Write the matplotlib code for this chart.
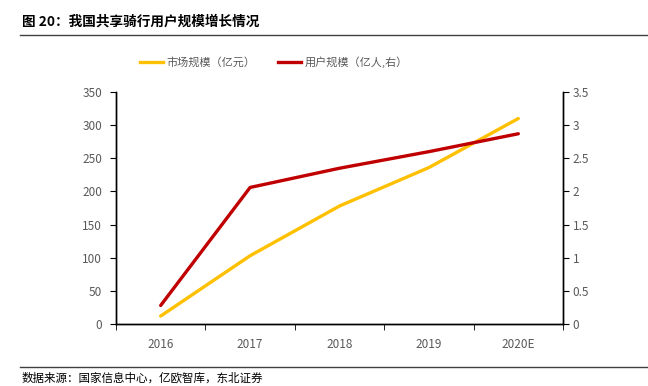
import matplotlib.pyplot as plt
from matplotlib.lines import Line2D
import numpy as np

plt.rcParams['font.family'] = ['Noto Sans CJK SC', 'DejaVu Sans']

# ---- data ----
years = ['2016', '2017', '2018', '2019', '2020E']
market = [12, 103, 178, 236, 310]       # 市场规模（亿元）
users = [0.28, 2.06, 2.35, 2.6, 2.87]   # 用户规模（亿人）

C_MARKET = '#FFC000'
C_USERS = '#C00000'
C_TICK = '#595959'

fig = plt.figure(figsize=(6.48, 3.86), dpi=100)
ax = fig.add_axes([116 / 648, 1 - 324 / 386, 447 / 648, 232 / 386])
ax2 = ax.twinx()

x = np.arange(len(years))
ax.plot(x, market, color=C_MARKET, lw=2.4, solid_capstyle='round')
ax2.plot(x, users, color=C_USERS, lw=2.4, solid_capstyle='round')

ax.set_xlim(-0.5, len(years) - 0.5)
ax.set_ylim(0, 350)
ax.set_yticks(range(0, 351, 50))
ax2.set_ylim(0, 3.5)
ax2.set_yticks(np.arange(0, 3.51, 0.5))
ax2.set_yticklabels(['0', '0.5', '1', '1.5', '2', '2.5', '3', '3.5'])

ax.set_xticks(x)
ax.set_xticklabels(years)
ax.set_xticks(np.arange(-0.5, len(years)), minor=True)
ax.tick_params(axis='x', which='major', length=0, pad=10, labelsize=8.5, labelcolor=C_TICK)
ax.tick_params(axis='x', which='minor', length=4, direction='out', color='black')
ax.tick_params(axis='y', length=4, direction='out', labelsize=8.5, labelcolor=C_TICK, pad=6)
ax2.tick_params(axis='y', length=4, direction='out', labelsize=8.5, labelcolor=C_TICK, pad=3)

for a in (ax, ax2):
    a.spines['top'].set_visible(False)
    for s in ('left', 'right', 'bottom'):
        a.spines[s].set_color('black')
        a.spines[s].set_linewidth(1)

# ---- legend ----
handles = [Line2D([], [], color=C_MARKET, lw=2.4),
           Line2D([], [], color=C_USERS, lw=2.4)]
fig.legend(handles, ['市场规模（亿元）', '用户规模（亿人,右）'],
           loc='center', bbox_to_anchor=(274 / 648, 1 - 62 / 386), ncol=2,
           frameon=False, fontsize=8, labelcolor=C_TICK,
           handlelength=2.1, handletextpad=0.3, columnspacing=2.0)

# ---- title and source ----
fig.text(22 / 648, 1 - 22 / 386, '图 20：我国共享骑行用户规模增长情况',
         fontsize=9.8, fontweight='bold', va='center', ha='left')
fig.add_artist(Line2D([20 / 648, 1], [1 - 35 / 386] * 2, color='#404040', lw=1))
fig.add_artist(Line2D([20 / 648, 1], [1 - 367 / 386] * 2, color='#404040', lw=1))
fig.text(22 / 648, 1 - 378 / 386, '数据来源：国家信息中心，亿欧智库，东北证券',
         fontsize=8.3, va='center', ha='left')

fig.savefig('out.png', dpi=100)
